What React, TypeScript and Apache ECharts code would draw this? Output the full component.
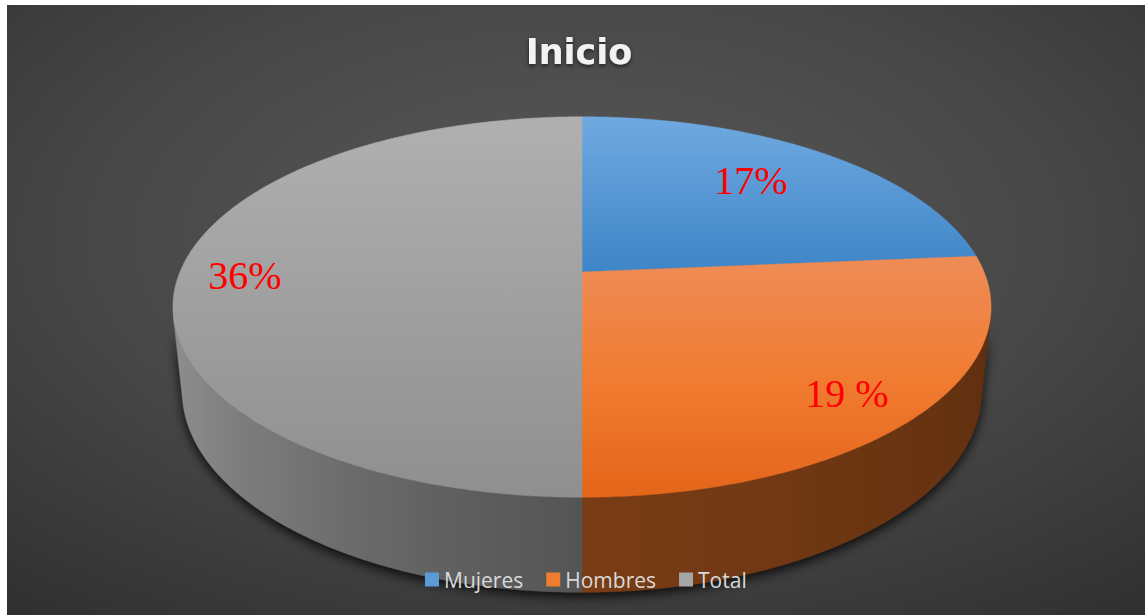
import React, { useEffect, useRef } from "react";
import * as echarts from "echarts";

// ---- data ----
const categories = ["Mujeres", "Hombres", "Total"];
const values = [17, 19, 36];
const labelTexts = ["17%", "19 %", "36%"];
const titleText = "Inicio";

// ---- style ----
const baseColors = ["#5b9bd5", "#ed7d31", "#a5a5a5"];
const channelPow: [number, number, number][] = [
  [1, 1, 1],
  [1, 1.08, 1.25],
  [1, 1, 1],
];
const topStops: [number, string][][] = [
  [[0, "#70a9e0"], [0.4, "#3f86c8"], [1, "#2f70b0"]],
  [[0, "#f09a68"], [0.37, "#ee8c57"], [0.7, "#f07b30"], [1, "#e4651a"]],
  [[0, "#b0b0b0"], [1, "#8f8f8f"]],
];
const SHADE: [number, number][] = [
  [100, 0.39], [140, 0.45], [180, 0.51], [200, 0.6], [220, 0.72], [245, 0.84], [260, 0.87],
];

const W = 1138;
const H = 610;
const CX = 575;
const CY = 267;
const ALPHA = (27.2 * Math.PI) / 180;
const DIST = 4.83;
const FOCAL = 1942;
const DEPTH = 0.237;
const TOP_Y0 = 112;
const TOP_Y1 = 492;

function project(thetaDeg: number, y: number): [number, number] {
  const t = (thetaDeg * Math.PI) / 180;
  const X = Math.sin(t);
  const Z = -Math.cos(t);
  const d = DIST - Z * Math.cos(ALPHA) - y * Math.sin(ALPHA);
  const yc = y * Math.cos(ALPHA) - Z * Math.sin(ALPHA);
  return [CX + (FOCAL * X) / d, CY - (FOCAL * yc) / d];
}

function arc(a: number, b: number, y: number): [number, number][] {
  const pts: [number, number][] = [];
  const n = Math.max(2, Math.ceil(Math.abs(b - a) / 0.5));
  for (let k = 0; k <= n; k++) pts.push(project(a + ((b - a) * k) / n, y));
  return pts;
}

const VIS_LO = (Math.acos(-1 / (DIST * Math.cos(ALPHA))) * 180) / Math.PI;
const VIS_HI = 360 - VIS_LO;

function shadeFactor(theta: number) {
  if (theta <= SHADE[0][0]) return SHADE[0][1];
  for (let i = 1; i < SHADE.length; i++) {
    if (theta <= SHADE[i][0]) {
      const [t0, f0] = SHADE[i - 1];
      const [t1, f1] = SHADE[i];
      return f0 + ((f1 - f0) * (theta - t0)) / (t1 - t0);
    }
  }
  return SHADE[SHADE.length - 1][1];
}

function shadeColor(i: number, f: number) {
  const hex = baseColors[i];
  const p = channelPow[i];
  const r = parseInt(hex.slice(1, 3), 16);
  const g = parseInt(hex.slice(3, 5), 16);
  const b = parseInt(hex.slice(5, 7), 16);
  const c = (v: number, q: number) => Math.round(Math.min(255, v * Math.pow(f, q)));
  return `rgb(${c(r, p[0])},${c(g, p[1])},${c(b, p[2])})`;
}

function sliceAngles(i: number) {
  const total = values.reduce((s, v) => s + v, 0);
  let start = 0;
  for (let j = 0; j < i; j++) start += (values[j] / total) * 360;
  return [start, start + (values[i] / total) * 360];
}

function makeRender(i: number) {
  return () => {
    const [s, e] = sliceAngles(i);
    const children: any[] = [];
    // side wall
    const a = Math.max(s, VIS_LO);
    const b = Math.min(e, VIS_HI);
    if (a < b) {
      const pts = [...arc(a, b, 0), ...arc(b, a, -DEPTH)];
      const xL = project(VIS_HI, 0)[0];
      const xR = project(VIS_LO, 0)[0];
      const stops: { offset: number; color: string }[] = [];
      const n = Math.max(2, Math.ceil((b - a) / 2));
      for (let k = 0; k <= n; k++) {
        const th = a + ((b - a) * k) / n;
        const x = project(th, 0)[0];
        stops.push({
          offset: Math.min(1, Math.max(0, (x - xL) / (xR - xL))),
          color: shadeColor(i, shadeFactor(th)),
        });
      }
      stops.sort((p, q) => p.offset - q.offset);
      const grad = new echarts.graphic.LinearGradient(xL, 0, xR, 0, stops, true);
      children.push({
        type: "polygon",
        shape: { points: pts },
        style: { fill: grad, stroke: grad, lineWidth: 0.5 },
        z2: 1,
      });
    }
    // top face
    const topPts = [[CX, CY] as [number, number], ...arc(s, e, 0)];
    const tg = new echarts.graphic.LinearGradient(
      0, TOP_Y0, 0, TOP_Y1,
      topStops[i].map(([o, col]) => ({ offset: o, color: col })),
      true
    );
    children.push({
      type: "polygon",
      shape: { points: topPts },
      style: { fill: tg, stroke: tg, lineWidth: 0.5 },
      z2: 2,
    });
    return { type: "group", children };
  };
}

function shadowRender() {
  const pts = [...arc(VIS_LO - 2, VIS_HI + 2, 0), ...arc(VIS_HI + 2, VIS_LO - 2, -DEPTH)];
  return {
    type: "polygon",
    shape: { points: pts },
    style: {
      fill: "#1a1a1a",
      shadowBlur: 12,
      shadowColor: "rgba(0,0,0,0.85)",
      shadowOffsetY: 4,
    },
    z2: 0,
  };
}

const labelPos: [number, number][] = [
  [744, 175],
  [840, 388],
  [238, 270],
];

export default function App() {
  const ref = useRef<HTMLDivElement>(null);
  useEffect(() => {
    if (!ref.current) return;
    const chart = echarts.init(ref.current, null, { renderer: "svg" });
    const bg = new echarts.graphic.RadialGradient(0.5, 0.38, 0.95, [
      { offset: 0, color: "#595959" },
      { offset: 0.45, color: "#474747" },
      { offset: 0.75, color: "#353535" },
      { offset: 1, color: "#262626" },
    ]);
    chart.setOption({
      animation: false,
      graphic: [
        {
          type: "rect",
          shape: { x: 0, y: 0, width: W, height: H },
          style: { fill: bg },
          z: -100,
          silent: true,
        },
        {
          type: "text",
          x: 572,
          y: 47,
          z: 100,
          style: {
            text: titleText,
            fill: "#f2f2f2",
            font: "bold 35px 'DejaVu Sans'",
            textAlign: "center",
            textVerticalAlign: "middle",
            textShadowColor: "rgba(0,0,0,0.6)",
            textShadowBlur: 4,
            textShadowOffsetY: 2,
          } as any,
        },
        ...labelTexts.map((t, i) => ({
          type: "text",
          x: labelPos[i][0],
          y: labelPos[i][1],
          z: 100,
          style: {
            text: t,
            fill: "#ff0000",
            font: "40px 'Liberation Serif'",
            textAlign: "center",
            textVerticalAlign: "middle",
          },
        })),
      ],
      legend: {
        data: categories,
        left: 413,
        top: 559,
        icon: "rect",
        itemWidth: 14,
        itemHeight: 14,
        itemGap: 23,
        textStyle: { color: "#d9d9d9", fontSize: 21, fontFamily: "'Open Sans'" },
      },
      series: [
        {
          type: "custom",
          coordinateSystem: "none",
          data: [[0]],
          renderItem: shadowRender,
          z: 1,
          silent: true,
        },
        ...categories.map((name, i) => ({
          type: "custom",
          name,
          coordinateSystem: "none",
          data: [[values[i]]],
          itemStyle: { color: baseColors[i] },
          renderItem: makeRender(i),
          z: 2,
          silent: true,
        })),
      ],
    });
    return () => chart.dispose();
  }, []);
  return (
    <div
      ref={ref}
      style={{ position: "absolute", left: 7, top: 5, width: W, height: H }}
    />
  );
}
